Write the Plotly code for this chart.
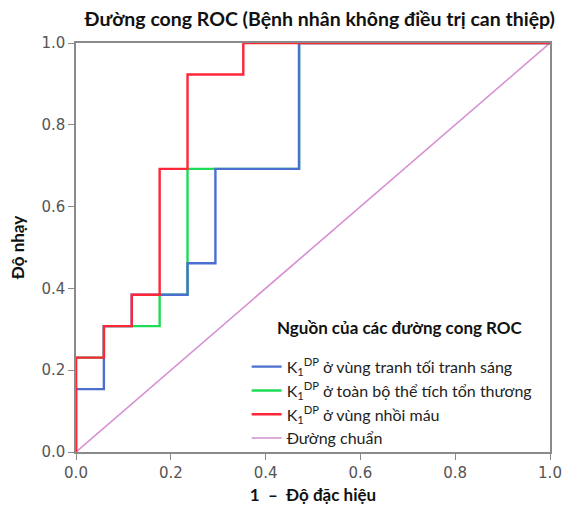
import plotly.graph_objects as go

# Data: ROC step curves (13 positives, 17 negatives)
blue_x = [0, 0, 1/17, 1/17, 2/17, 2/17, 4/17, 4/17, 5/17, 5/17, 8/17, 8/17, 1]
blue_y = [0, 2/13, 2/13, 4/13, 4/13, 5/13, 5/13, 6/13, 6/13, 9/13, 9/13, 1, 1]

green_x = [0, 0, 1/17, 1/17, 3/17, 3/17, 4/17, 4/17, 5/17, 8/17, 8/17, 1]
green_y = [0, 3/13, 3/13, 4/13, 4/13, 5/13, 5/13, 9/13, 9/13, 9/13, 1, 1]

red_x = [0, 0, 1/17, 1/17, 2/17, 2/17, 3/17, 3/17, 4/17, 4/17, 6/17, 6/17, 1]
red_y = [0, 3/13, 3/13, 4/13, 4/13, 5/13, 5/13, 9/13, 9/13, 12/13, 12/13, 1, 1]

ref_x = [0, 1]
ref_y = [0, 1]

names = [
    "K<sub>1</sub><sup>DP</sup> ở vùng tranh tối tranh sáng",
    "K<sub>1</sub><sup>DP</sup> ở toàn bộ thể tích tổn thương",
    "K<sub>1</sub><sup>DP</sup> ở vùng nhồi máu",
    "Đường chuẩn",
]
tick_vals = [0, 0.2, 0.4, 0.6, 0.8, 1.0]
tick_text = ["0.0", "0.2", "0.4", "0.6", "0.8", "1.0"]

fig = go.Figure()
# drawing order: diagonal, green, blue, red (red on top)
fig.add_trace(go.Scatter(x=ref_x, y=ref_y, mode="lines", name=names[3],
                         line=dict(color="#D58FD2", width=1.6), legendrank=4))
fig.add_trace(go.Scatter(x=green_x, y=green_y, mode="lines", name=names[1],
                         line=dict(color="#1FDC57", width=2.4), legendrank=2))
fig.add_trace(go.Scatter(x=blue_x, y=blue_y, mode="lines", name=names[0],
                         line=dict(color="#4B6FCF", width=2.4), legendrank=1))
fig.add_trace(go.Scatter(x=red_x, y=red_y, mode="lines", name=names[2],
                         line=dict(color="#FF2638", width=2.4), legendrank=3))

axis_common = dict(
    range=[0, 1], tickvals=tick_vals, ticktext=tick_text,
    showgrid=False, zeroline=False, showline=True, linecolor="#8a8a8a",
    linewidth=1.5, ticks="outside", ticklen=6, tickcolor="#8a8a8a",
    tickfont=dict(family="DejaVu Sans", size=15, color="#555555"),
    mirror=True, automargin=False,
)
fig.update_xaxes(**axis_common,
                 title=dict(text="<b>1  –  Độ đặc hiệu</b>",
                            font=dict(family="Lato", size=17, color="#111"),
                            standoff=8))
fig.update_yaxes(**axis_common,
                 title=dict(text="<b>Độ nhạy</b>",
                            font=dict(family="Lato", size=17, color="#111"),
                            standoff=12))

fig.update_layout(
    width=566, height=505,
    margin=dict(l=76, r=16, t=43, b=53, autoexpand=False),
    paper_bgcolor="white", plot_bgcolor="white",
    title=dict(text="<b>Đường cong ROC (Bệnh nhân không điều trị can thiệp)</b>",
               x=0.565, xanchor="center", y=0.962, yanchor="middle",
               font=dict(family="Lato", size=19.5, color="#111")),
    showlegend=True,
    legend=dict(x=0.36, y=0.25, xanchor="left", yanchor="top",
                bgcolor="rgba(255,255,255,0)", borderwidth=0,
                tracegroupgap=0, itemwidth=30,
                font=dict(family="Lato", size=16, color="#222")),
    annotations=[dict(text="<b>Nguồn của các đường cong ROC</b>",
                      xref="paper", yref="paper", x=0.42, y=0.305,
                      xanchor="left", yanchor="middle", showarrow=False,
                      font=dict(family="Lato", size=17, color="#111"))],
)

fig.write_html("out.html")
